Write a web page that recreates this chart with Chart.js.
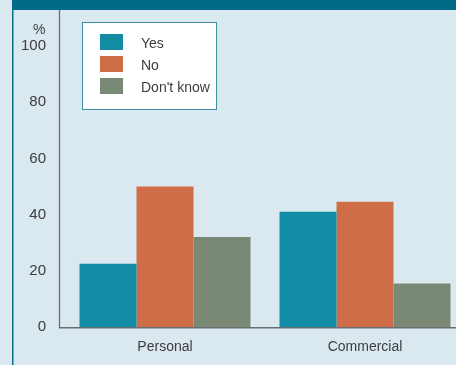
<!DOCTYPE html>
<html><head><meta charset="utf-8">
<script src="https://cdn.jsdelivr.net/npm/chart.js@4"></script>
<style>
html,body{margin:0;padding:0;background:#DAE8EF;overflow:hidden;width:456px;height:365px;}
#wrap{position:absolute;left:0;top:0;width:465px;height:365px;}
</style></head><body>
<div id="wrap"><canvas id="c" width="465" height="365"></canvas></div>
<script>
const categories = ["Personal", "Commercial"];
const seriesNames = ["Yes", "No", "Don't know"];
const yesValues = [22.5, 41];
const noValues = [50, 44.6];
const dontKnowValues = [32, 15.5];
const seriesColors = ["#128CA5", "#CF6D48", "#7A8975"];
const yTicks = [0, 20, 40, 60, 80, 100];

const FONT = "'Liberation Sans', Arial, sans-serif";
const TEXT = "#3d3d3d";

const decor = {
  id: 'decor',
  beforeDraw(chart) {
    const ctx = chart.ctx;
    ctx.save();
    ctx.fillStyle = '#DAE8EF';
    ctx.fillRect(0, 0, chart.width, chart.height);
    ctx.fillStyle = '#006B87';
    ctx.fillRect(12, 0, chart.width - 12, 10);
    ctx.strokeStyle = '#0E6F8A';
    ctx.lineWidth = 1.5;
    ctx.beginPath(); ctx.moveTo(12.75, 10); ctx.lineTo(12.75, chart.height); ctx.stroke();
    ctx.restore();
  },
  afterDatasetsDraw(chart) {
    const ctx = chart.ctx, a = chart.chartArea;
    const ax = a.left - 6;
    ctx.save();
    ctx.strokeStyle = '#6a6e70';
    ctx.lineWidth = 1.3;
    ctx.beginPath(); ctx.moveTo(ax + 0.5, 10); ctx.lineTo(ax + 0.5, a.bottom + 1); ctx.stroke();
    ctx.lineWidth = 1.6;
    ctx.beginPath(); ctx.moveTo(ax, a.bottom + 0.8); ctx.lineTo(chart.width, a.bottom + 0.8); ctx.stroke();
    // % label
    ctx.fillStyle = TEXT;
    ctx.font = "14px " + FONT;
    ctx.textAlign = 'right'; ctx.textBaseline = 'middle';
    ctx.fillText('%', 45.5, a.top - 15.5);
    // legend box
    const lx = a.left + 17.5, ly = a.top - 23.5, lw = 134, lh = 87;
    ctx.fillStyle = '#ffffff';
    ctx.fillRect(lx, ly, lw, lh);
    ctx.strokeStyle = '#3f8ea5';
    ctx.lineWidth = 1;
    ctx.strokeRect(lx, ly, lw, lh);
    chart.data.datasets.forEach((ds, i) => {
      const cy = ly + 19.5 + i * 22;
      ctx.fillStyle = ds.backgroundColor;
      ctx.fillRect(lx + 17.5, cy - 8, 23, 16);
      ctx.fillStyle = TEXT;
      ctx.font = "14px " + FONT;
      ctx.textAlign = 'left'; ctx.textBaseline = 'middle';
      ctx.fillText(ds.label, lx + 58.5, cy + 2.5);
    });
    ctx.restore();
  }
};

new Chart(document.getElementById('c'), {
  type: 'bar',
  data: {
    labels: categories,
    datasets: [
      { label: seriesNames[0], data: yesValues, backgroundColor: seriesColors[0] },
      { label: seriesNames[1], data: noValues, backgroundColor: seriesColors[1] },
      { label: seriesNames[2], data: dontKnowValues, backgroundColor: seriesColors[2] }
    ]
  },
  options: {
    responsive: false,
    animation: false,
    layout: { padding: { top: 46, right: 0, left: 0, bottom: 0 } },
    datasets: { bar: { categoryPercentage: 0.855, barPercentage: 1.0, borderWidth: 0 } },
    plugins: { legend: { display: false }, tooltip: { enabled: false } },
    scales: {
      x: {
        grid: { display: false, drawTicks: false },
        border: { display: false },
        ticks: { color: TEXT, font: { family: FONT, size: 14 }, padding: 12 },
        afterFit(s) { s.height = 38; }
      },
      y: {
        min: 0, max: 100,
        grid: { display: false, drawTicks: false },
        border: { display: false },
        afterBuildTicks(s) { s.ticks = yTicks.map(v => ({ value: v })); },
        ticks: { color: TEXT, font: { family: FONT, size: 15 }, padding: 19 },
        afterFit(s) { s.width = 65; }
      }
    }
  },
  plugins: [decor]
});
</script>
</body></html>
